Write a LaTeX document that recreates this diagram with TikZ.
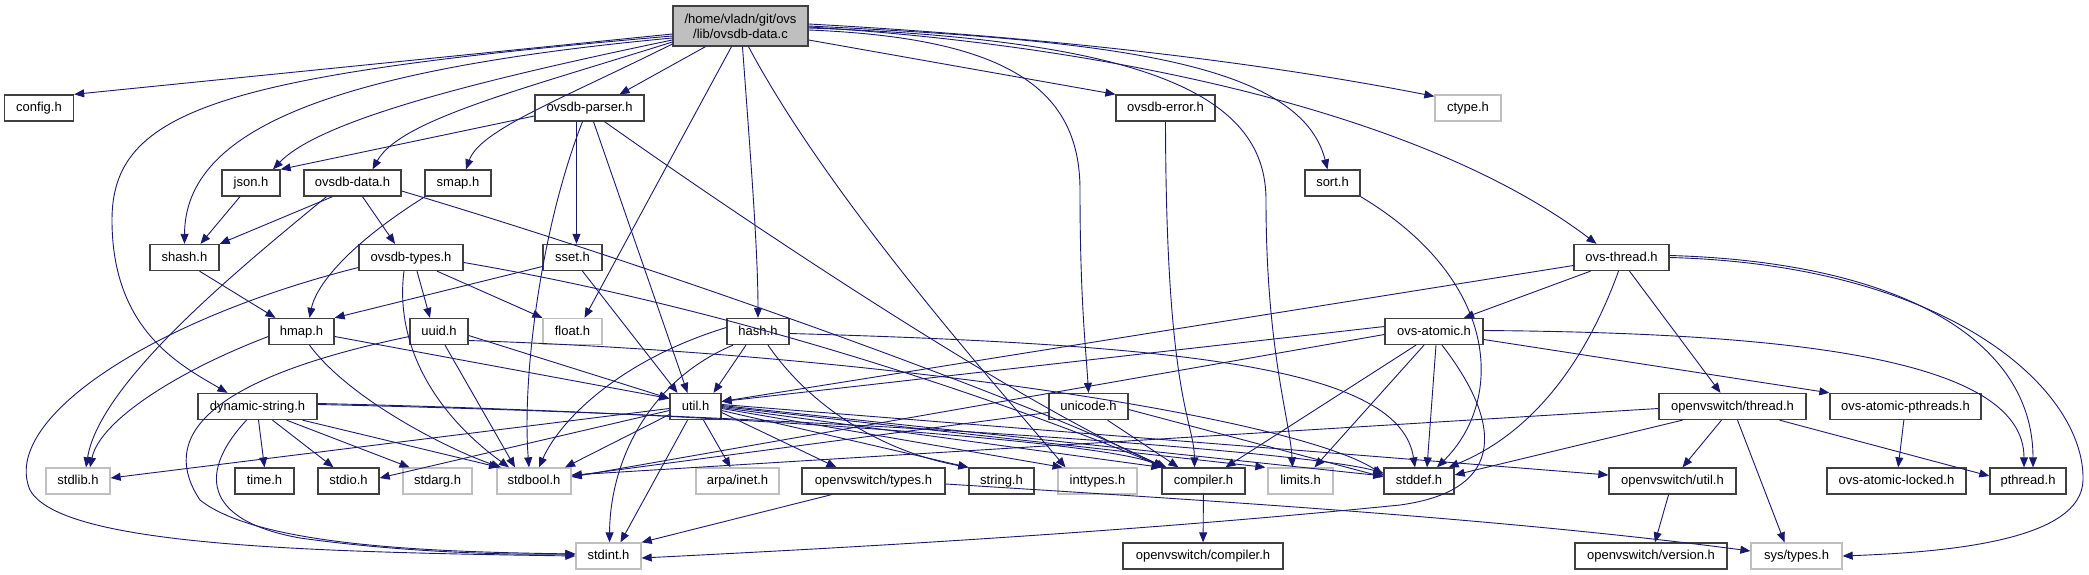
\documentclass[tikz,border=0pt]{standalone}
\usepackage{fontspec}
\setmainfont{Liberation Sans}
\usetikzlibrary{arrows.meta}
\definecolor{edgec}{HTML}{191970}
\definecolor{grayb}{HTML}{BFBFBF}
\definecolor{boxb}{HTML}{404040}
\begin{document}
\begin{tikzpicture}[x=1pt,y=-1pt,
  box/.style={draw=boxb, line width=1.3pt, inner sep=0pt, minimum height=26pt,
    text height=9.5pt, text depth=2.5pt, font=\fontsize{13}{15}\selectfont},
  gbox/.style={box, draw=grayb},
  e/.style={draw=edgec, line width=0.9pt, -{Triangle[length=10pt,width=8pt]}, fill=none}]
\fill[white] (0,0) rectangle (2089,575);
\useasboundingbox (0,0) rectangle (2089,575);
% row 0
\node[box, fill=grayb, minimum width=135pt, minimum height=40pt, align=center, text height=, text depth=] (m) at (740.5,26) {/home/vladn/git/ovs\\/lib/ovsdb-data.c};
% row 1
\node[box, minimum width=69pt] (cfg) at (39,108) {config.h};
\node[box, minimum width=109pt] (parser) at (589.5,108) {ovsdb-parser.h};
\node[box, minimum width=99pt] (err) at (1165.5,108) {ovsdb-error.h};
\node[gbox, minimum width=66pt] (ctype) at (1468,108) {ctype.h};
% row 2
\node[box, minimum width=58pt] (json) at (251,183) {json.h};
\node[box, minimum width=97pt] (odata) at (352.5,183) {ovsdb-data.h};
\node[box, minimum width=66pt] (smap) at (458,183) {smap.h};
\node[box, minimum width=55pt] (sort) at (1332.5,183) {sort.h};
% row 3
\node[box, minimum width=69pt] (shash) at (184.5,257.5) {shash.h};
\node[box, minimum width=104pt] (otypes) at (411,257.5) {ovsdb-types.h};
\node[box, minimum width=59pt] (sset) at (572.5,257.5) {sset.h};
\node[box, minimum width=95pt] (othread) at (1621.5,257.5) {ovs-thread.h};
% row 4
\node[box, minimum width=65pt] (hmap) at (301.5,331.5) {hmap.h};
\node[box, minimum width=58pt] (uuid) at (439,331.5) {uuid.h};
\node[gbox, minimum width=59pt] (float) at (572.5,331.5) {float.h};
\node[box, minimum width=62pt] (hash) at (758,331.5) {hash.h};
\node[box, minimum width=98pt] (atomic) at (1434,331.5) {ovs-atomic.h};
% row 5
\node[box, minimum width=119pt] (dstr) at (257.5,406.5) {dynamic-string.h};
\node[box, minimum width=51pt] (util) at (695.5,406.5) {util.h};
\node[box, minimum width=79pt] (unicode) at (1088.5,406.5) {unicode.h};
\node[box, minimum width=147pt] (vthread) at (1732.5,406.5) {openvswitch/thread.h};
\node[box, minimum width=151pt] (apth) at (1905.5,406.5) {ovs-atomic-pthreads.h};
% row 6
\node[gbox, minimum width=64pt] (stdlib) at (78,481) {stdlib.h};
\node[box, minimum width=59pt] (time) at (264.5,481) {time.h};
\node[box, minimum width=61pt] (stdio) at (348.5,481) {stdio.h};
\node[gbox, minimum width=69pt] (stdarg) at (437.5,481) {stdarg.h};
\node[gbox, minimum width=74pt] (stdbool) at (534,481) {stdbool.h};
\node[gbox, minimum width=83pt] (arpa) at (737.5,481) {arpa/inet.h};
\node[box, minimum width=143pt] (vtypes) at (873.5,481) {openvswitch/types.h};
\node[box, minimum width=65pt] (string) at (1001.5,481) {string.h};
\node[gbox, minimum width=79pt] (inttypes) at (1097.5,481) {inttypes.h};
\node[box, minimum width=83pt] (compiler) at (1203.5,481) {compiler.h};
\node[gbox, minimum width=65pt] (limits) at (1300.5,481) {limits.h};
\node[box, minimum width=70pt] (stddef) at (1419,481) {stddef.h};
\node[box, minimum width=127pt] (vutil) at (1672.5,481) {openvswitch/util.h};
\node[box, minimum width=139pt] (alocked) at (1896.5,481) {ovs-atomic-locked.h};
\node[box, minimum width=76pt] (pthread) at (2028,481) {pthread.h};
% row 7
\node[gbox, minimum width=65pt] (stdint) at (608.5,556) {stdint.h};
\node[box, minimum width=160pt] (vcompiler) at (1203,556) {openvswitch/compiler.h};
\node[box, minimum width=152pt] (vversion) at (1651,556) {openvswitch/version.h};
\node[gbox, minimum width=91pt] (systypes) at (1796.5,556) {sys/types.h};

% ---- edges from main
\draw[e] ([yshift=-8pt]m.west) -- (cfg.north east);
\draw[e] ([yshift=-12pt]m.west) .. controls (330,70) and (185,130) .. (shash.north);
\draw[e] ([yshift=-10pt]m.west) .. controls (220,75) and (112,110) .. (112,220) .. controls (112,330) and (180,365) .. ([xshift=-30pt]dstr.north);
\draw[e] ([yshift=-14pt]m.west) .. controls (480,80) and (320,120) .. ([xshift=22pt]json.north);
\draw[e] ([yshift=-16pt]m.west) .. controls (520,90) and (400,120) .. ([xshift=20pt]odata.north);
\draw[e] ([yshift=-18pt]m.west) .. controls (560,100) and (480,130) .. ([xshift=8pt]smap.north);
\draw[e] ([xshift=-35pt]m.south) -- ([xshift=30pt]parser.north);
\draw[e] ([xshift=-9pt]m.south) -- ([xshift=12pt]float.north);
\draw[e] ([xshift=2pt]m.south) .. controls (750,150) and (758,250) .. (hash.north);
\draw[e] ([xshift=8pt]m.south) .. controls (830,200) and (1000,390) .. ([xshift=-32pt]inttypes.north);
\draw[e] ([yshift=-14pt]m.east) -- (err.north west);
\draw[e] ([yshift=-4pt]m.east) .. controls (1010,38) and (1080,90) .. (1080,190) .. controls (1080,300) and (1086,350) .. (unicode.north);
\draw[e] ([yshift=-2pt]m.east) .. controls (1160,40) and (1266,100) .. (1266,200) .. controls (1266,350) and (1290,420) .. ([xshift=-8pt]limits.north);
\draw[e] (m.east) .. controls (1100,40) and (1300,60) .. ([xshift=-5pt]sort.north);
\draw[e] ([yshift=2pt]m.east) .. controls (1100,40) and (1300,70) .. ([yshift=-2pt]ctype.north west);
\draw[e] ([yshift=-1pt]m.east) .. controls (1100,45) and (1420,110) .. ([xshift=-25pt]othread.north);
% ---- ovsdb-parser.h
\draw[e] ([yshift=-8pt]parser.west) -- (json.north east);
\draw[e] ([xshift=-13pt]parser.south) -- ([xshift=4pt]sset.north);
\draw[e] ([xshift=4pt]parser.south) -- ([xshift=-8pt]util.north);
\draw[e] ([xshift=-7pt]parser.south) .. controls (540,230) and (522,380) .. ([xshift=-5pt]stdbool.north);
\draw[e] ([xshift=15pt]parser.south) .. controls (800,260) and (1050,420) .. ([xshift=-37pt]compiler.north);
% ---- ovsdb-error.h
\draw[e] (err.south) .. controls (1166,400) and (1194,420) .. ([xshift=-9pt]compiler.north);
% ---- json.h / ovsdb-data.h / smap.h / sort.h
\draw[e] ([xshift=-11pt]json.south) -- ([xshift=16pt]shash.north);
\draw[e] ([xshift=-20pt]odata.south) -- (shash.north east);
\draw[e] ([xshift=10pt]odata.south) -- ([xshift=-16pt]otypes.north);
\draw[e] ([xshift=-26pt]odata.south) .. controls (250,260) and (100,380) .. ([xshift=8pt]stdlib.north);
\draw[e] ([yshift=-8pt]odata.east) .. controls (700,280) and (1050,410) .. ([xshift=-40pt]compiler.north);
\draw[e] ([xshift=-33pt]smap.south) .. controls (340,250) and (315,290) .. ([xshift=8pt]hmap.north);
\draw[e] (sort.south east) .. controls (1500,280) and (1505,400) .. ([xshift=18pt]stddef.north);
% ---- shash.h / ovsdb-types.h / sset.h
\draw[e] ([xshift=15pt]shash.south) -- ([xshift=-26pt]hmap.north);
\draw[e] ([xshift=26pt]otypes.south) -- (float.north west);
\draw[e] ([xshift=6pt]otypes.south) -- ([xshift=-9pt]uuid.north);
\draw[e] ([xshift=-7pt]otypes.south) .. controls (395,340) and (430,410) .. ([xshift=-25pt]stdbool.north);
\draw[e] ([yshift=-10pt]otypes.west) .. controls (150,320) and (0,420) .. (30,490) .. controls (60,545) and (300,552) .. (stdint.west);
\draw[e] ([yshift=-5pt]otypes.east) .. controls (800,320) and (1100,440) .. ([xshift=-40pt]compiler.north);
\draw[e] ([yshift=-9pt]sset.west) -- (hmap.north east);
\draw[e] ([xshift=10pt]sset.south) -- ([xshift=-18pt]util.north);
% ---- ovs-thread.h
\draw[e] ([yshift=-8pt]othread.west) -- ([yshift=5pt]util.east);
\draw[e] ([xshift=-31pt]othread.south) -- ([xshift=30pt]atomic.north);
\draw[e] ([xshift=8pt]othread.south) -- ([xshift=-12pt]vthread.north);
\draw[e] ([xshift=-3pt]othread.south) .. controls (1590,350) and (1540,430) .. ([xshift=-6pt]stddef.north east);
\draw[e] ([yshift=2pt]othread.east) .. controls (1900,262) and (2033,340) .. ([xshift=5pt]pthread.north);
\draw[e] (othread.east) .. controls (1950,265) and (2085,390) .. (2083,480) .. controls (2082,540) and (1950,552) .. (systypes.east);
% ---- ovs-atomic.h
\draw[e] ([yshift=5pt]atomic.west) -- ([yshift=5pt]util.east);
\draw[e] ([yshift=-3pt]atomic.west) -- ([yshift=4pt]stdbool.east);
\draw[e] ([xshift=-18pt]atomic.south) -- ([xshift=22pt]compiler.north);
\draw[e] ([xshift=-10pt]atomic.south) -- ([xshift=14pt]limits.north);
\draw[e] ([xshift=2pt]atomic.south) -- ([xshift=8pt]stddef.north);
\draw[e] ([xshift=8pt]atomic.south) .. controls (1500,420) and (1510,490) .. (1400,505) .. controls (1100,535) and (800,550) .. ([yshift=-2pt]stdint.east);
\draw[e] ([yshift=1pt]atomic.east) .. controls (1800,333) and (2024,360) .. ([xshift=-4pt]pthread.north);
\draw[e] ([yshift=-8pt]atomic.east) -- (apth.north west);
% ---- hmap.h
\draw[e] ([yshift=-5pt]hmap.east) -- ([yshift=8pt]util.west);
\draw[e] ([yshift=-5pt]hmap.west) .. controls (180,370) and (100,420) .. ([xshift=12pt]stdlib.north);
\draw[e] ([xshift=8pt]hmap.south) .. controls (350,400) and (450,450) .. ([xshift=-33pt]stdbool.north);
% ---- uuid.h
\draw[e] ([yshift=-4pt]uuid.east) -- ([yshift=8pt]util.west);
\draw[e] ([yshift=-9pt]uuid.east) .. controls (900,355) and (1300,420) .. ([yshift=6pt]stddef.west);
\draw[e] ([yshift=-5pt]uuid.west) .. controls (200,380) and (160,440) .. (200,500) .. controls (260,548) and (450,552) .. ([yshift=2pt]stdint.west);
\draw[e] ([xshift=6pt]uuid.south) -- ([xshift=-19pt]stdbool.north);
% ---- hash.h
\draw[e] ([xshift=-12pt]hash.south) -- ([xshift=18pt]util.north);
\draw[e] ([yshift=4pt]hash.west) .. controls (620,360) and (560,420) .. ([xshift=5pt]stdbool.north);
\draw[e] ([xshift=-25pt]hash.south) .. controls (650,380) and (610,460) .. ([xshift=1pt]stdint.north);
\draw[e] ([xshift=10pt]hash.south) .. controls (820,420) and (900,455) .. (string.north west);
\draw[e] ([yshift=-2pt]hash.east) .. controls (1200,345) and (1400,370) .. ([xshift=-4pt]stddef.north);
% ---- dynamic-string.h
\draw[e] ([xshift=1pt]dstr.south) -- (time.north);
\draw[e] ([xshift=15pt]dstr.south) -- ([xshift=-15pt]stdio.north);
\draw[e] ([xshift=29pt]dstr.south) -- ([xshift=-28pt]stdarg.north);
\draw[e] ([xshift=45pt]dstr.south) -- ([xshift=-35pt]stdbool.north);
\draw[e] ([xshift=-11pt]dstr.south) .. controls (200,470) and (200,520) .. (300,538) .. controls (400,552) and (500,555) .. ([yshift=2pt]stdint.west);
\draw[e] ([yshift=3pt]dstr.east) .. controls (700,412) and (1100,440) .. ([xshift=-40pt]compiler.north);
\draw[e] ([yshift=2pt]dstr.east) .. controls (800,415) and (1300,450) .. ([yshift=8pt]stddef.west);
% ---- util.h
\draw[e] ([yshift=-2pt]util.west) -- ([yshift=3pt]stdlib.east);
\draw[e] ([yshift=-4pt]util.west) -- ([yshift=3pt]stdio.east);
\draw[e] ([yshift=-8pt]util.west) -- ([xshift=31pt]stdbool.north);
\draw[e] ([xshift=-8pt]util.south) -- ([xshift=12pt]stdint.north);
\draw[e] ([xshift=8pt]util.south) -- ([xshift=-7pt]arpa.north);
\draw[e] ([yshift=-6pt]util.east) -- ([xshift=-37pt]vtypes.north);
\draw[e] ([yshift=-4pt]util.east) -- (string.north west);
\draw[e] ([yshift=-2pt]util.east) -- ([xshift=-35pt]inttypes.north);
\draw[e] ([yshift=-1pt]util.east) -- (compiler.north west);
\draw[e] (util.east) -- ([xshift=-2pt]limits.north west);
\draw[e] ([yshift=1pt]util.east) -- ([yshift=5pt]stddef.west);
\draw[e] ([yshift=2pt]util.east) -- ([yshift=6pt]vutil.west);
% ---- unicode.h
\draw[e] ([xshift=19pt]unicode.south) -- ([xshift=-25pt]compiler.north);
\draw[e] ([yshift=-3pt]unicode.east) -- ([yshift=4pt]stddef.west);
\draw[e] ([yshift=-6pt]unicode.west) -- ([yshift=5pt]stdbool.east);
% ---- openvswitch/types.h
\draw[e] ([xshift=-42pt]vtypes.south) -- (stdint.north east);
\draw[e] ([yshift=-3pt]vtypes.east) .. controls (1200,500) and (1500,518) .. ([yshift=5pt]systypes.west);
% ---- others
\draw[e] (compiler) -- (vcompiler);
\draw[e] ([xshift=-11pt]vthread.south) -- ([xshift=10pt]vutil.north);
\draw[e] ([xshift=5pt]vthread.south) -- ([xshift=-12pt]systypes.north);
\draw[e] ([xshift=47pt]vthread.south) -- ([yshift=5pt]pthread.west);
\draw[e] ([xshift=-50pt]vthread.south) -- ([yshift=6pt]stddef.east);
\draw[e] ([yshift=-2pt]vthread.west) -- ([yshift=6pt]stdbool.east);
\draw[e] (apth) -- (alocked);
\draw[e] (vutil) -- (vversion);
\end{tikzpicture}
\end{document}
